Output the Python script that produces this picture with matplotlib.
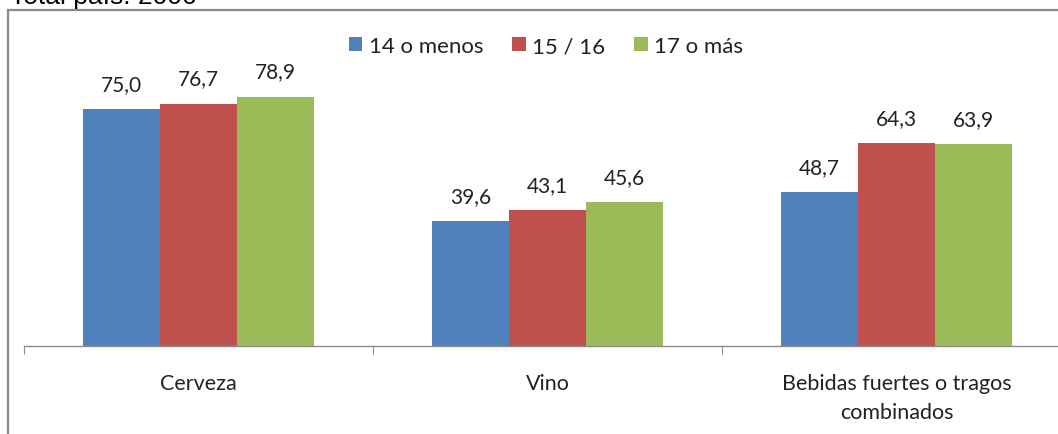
import matplotlib
matplotlib.use("Agg")
import matplotlib.pyplot as plt
from matplotlib.patches import Rectangle
import numpy as np

categories = ["Cerveza", "Vino", "Bebidas fuertes o tragos\ncombinados"]
series_names = ["14 o menos", "15 / 16", "17 o más"]
s14 = [75.0, 39.6, 48.7]
s15 = [76.7, 43.1, 64.3]
s17 = [78.9, 45.6, 63.9]
colors = ["#4F81BD", "#C0504D", "#9BBB59"]

W, H = 1058, 435
fig = plt.figure(figsize=(W / 100, H / 100), dpi=100)
fig.patch.set_facecolor("white")

# outer frame (cropped)
fig.add_artist(Rectangle((8 / W, -0.1), 1.2, (H - 11) / H + 0.1, transform=fig.transFigure,
                         fill=False, edgecolor="#8a8a8a", linewidth=1.6))
fig.text(10 / W, 1 - 4 / H, "Total país: 2006", fontsize=19, family="Liberation Sans",
         va="baseline", ha="left", color="black")

ax = fig.add_axes([24 / W, (H - 347) / H, 1047 / W, (347 - 11) / H])
ax.set_xlim(-0.5, 2.5)
ax.set_ylim(0, (347 - 11) / 3.16)

x = np.arange(len(categories))
bw = 0.221
for i, (vals, name, c) in enumerate(zip([s14, s15, s17], series_names, colors)):
    bars = ax.bar(x + (i - 1) * bw, vals, bw, color=c, label=name, linewidth=0)
    for b, v in zip(bars, vals):
        ax.text(b.get_x() + b.get_width() / 2, v + 4.8, f"{v:.1f}".replace(".", ","),
                ha="center", va="bottom", fontsize=15, family="Lato", color="#222222")

for s in ["top", "right", "left"]:
    ax.spines[s].set_visible(False)
ax.spines["bottom"].set_color("#8a8a8a")
ax.spines["bottom"].set_linewidth(1.0)
ax.set_yticks([])
ax.set_xticks([-0.5, 0.5, 1.5, 2.5], minor=False)
ax.set_xticklabels([])
ax.tick_params(axis="x", length=6, color="#8a8a8a", direction="out")
for xi, lab in zip(x, categories):
    ax.text(xi, -8.5, lab, ha="center", va="top", fontsize=15.5, family="Lato",
            color="#222222", linespacing=1.55)
ax.set_facecolor("none")

leg = fig.legend(loc="center", bbox_to_anchor=(546 / W, 1 - 47 / H), ncol=3, frameon=False,
                 prop={"family": "Lato", "size": 16}, handlelength=0.6, handleheight=0.6,
                 handletextpad=0.3, columnspacing=1.3)
for t in leg.get_texts():
    t.set_color("#222222")

fig.savefig("out.png", dpi=100)
